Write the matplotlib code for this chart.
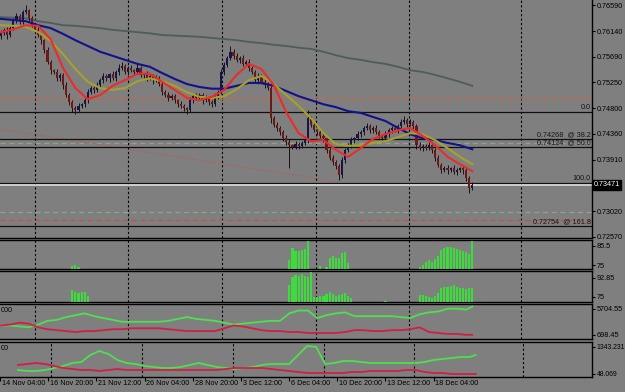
import matplotlib
matplotlib.use('Agg')
import matplotlib.pyplot as plt
import matplotlib.transforms as mtransforms
import numpy as np

plt.rcParams['font.family'] = ['Liberation Sans', 'DejaVu Sans']

# H4 candles, prices in pips above 0.7000 (611 -> 0.7611)
first_open = 605
closes = [611, 616, 607, 619, 633, 640, 630, 647, 650, 636,
          624, 616, 607, 598, 581, 560, 546, 543, 532, 538,
          520, 503, 491, 480, 477, 484, 487, 494, 508, 515,
          512, 520, 529, 536, 532, 539, 532, 543, 550, 553,
          543, 550, 546, 543, 550, 538, 539, 532, 536, 529,
          532, 522, 508, 503, 498, 501, 494, 487, 484, 480,
          477, 494, 501, 498, 503, 494, 498, 491, 487, 501,
          508, 543, 555, 567, 578, 571, 564, 567, 557, 560,
          550, 543, 529, 536, 526, 520, 515, 463, 451, 446,
          439, 428, 422, 416, 413, 418, 415, 420, 425, 463,
          451, 442, 439, 432, 428, 408, 394, 387, 380, 364,
          390, 408, 416, 425, 428, 435, 439, 446, 449, 442,
          446, 439, 432, 428, 435, 442, 446, 442, 449, 456,
          460, 453, 456, 449, 416, 411, 415, 411, 416, 408,
          394, 382, 373, 376, 373, 376, 370, 373, 376, 373,
          359, 342, 347]
wick_up = [4, 3, 5, 3, 4, 6, 3, 4, 9, 3,
           4, 3, 5, 4, 3, 5, 4, 3, 6, 4,
           3, 5, 4, 3, 4, 5, 3, 4, 6, 3,
           4, 5, 3, 6, 4, 3, 5, 4, 6, 8,
           3, 4, 5, 3, 6, 4, 3, 5, 4, 3,
           5, 4, 3, 4, 5, 3, 4, 3, 5, 4,
           3, 5, 4, 6, 3, 4, 5, 3, 4, 6,
           4, 6, 5, 4, 10, 4, 5, 3, 6, 4,
           5, 3, 4, 6, 3, 4, 5, 3, 4, 5,
           3, 4, 5, 4, 3, 5, 4, 3, 5, 14,
           4, 5, 3, 4, 5, 3, 4, 5, 3, 4,
           5, 3, 4, 6, 3, 5, 4, 3, 5, 4,
           3, 5, 4, 3, 6, 4, 3, 5, 4, 5,
           7, 4, 5, 3, 4, 5, 3, 4, 6, 3,
           4, 5, 3, 4, 5, 3, 6, 4, 3, 5,
           4, 3, 5]
wick_dn = [5, 4, 6, 3, 4, 5, 4, 3, 4, 5,
           3, 5, 4, 6, 5, 4, 6, 3, 5, 4,
           6, 4, 5, 7, 6, 4, 3, 5, 4, 3,
           5, 4, 3, 5, 4, 6, 3, 4, 5, 3,
           4, 6, 3, 5, 4, 3, 5, 4, 3, 6,
           4, 3, 5, 4, 6, 3, 5, 4, 3, 5,
           6, 4, 5, 3, 4, 6, 3, 5, 4, 3,
           4, 3, 5, 4, 3, 5, 4, 6, 3, 4,
           5, 4, 3, 6, 4, 5, 3, 8, 4, 5,
           6, 4, 5, 40, 4, 3, 5, 4, 3, 5,
           4, 3, 5, 4, 6, 5, 4, 6, 5, 9,
           4, 5, 3, 4, 5, 3, 4, 5, 3, 4,
           5, 3, 4, 6, 3, 4, 5, 3, 4, 3,
           4, 5, 3, 4, 6, 4, 5, 3, 4, 5,
           6, 4, 5, 3, 6, 4, 3, 5, 4, 6,
           5, 9, 4]

# moving averages read every 4th bar (pips)
ma_bars = list(range(0, 153, 4))
ma_fast = [612, 617, 624, 623, 600, 550, 515, 496, 503, 519, 529, 540, 540,
           526, 512, 498, 494, 500, 512, 538, 557, 548, 520, 473, 437, 423,
           425, 408, 396, 411, 427, 435, 442, 446, 432, 416, 396, 383, 371]
ma_mid = [624, 623, 621, 612, 597, 574, 548, 526, 515, 512, 515, 527, 532,
          527, 519, 508, 500, 498, 501, 513, 529, 536, 522, 503, 484, 463,
          437, 418, 415, 416, 420, 423, 430, 437, 435, 425, 411, 396, 383]
ma_slow = [635, 633, 631, 624, 619, 609, 598, 588, 578, 571, 564, 557, 552,
           541, 531, 522, 517, 514, 514, 519, 524, 524, 519, 510, 501, 494,
           487, 482, 475, 472, 465, 458, 446, 435, 428, 425, 420, 416, 409]
ma_long = [638, 637, 636, 631, 628, 624, 623, 621, 619, 616, 614, 612, 610,
           607, 606, 605, 604, 602, 600, 598, 595, 593, 590, 588, 585, 583,
           578, 572, 567, 564, 560, 557, 552, 546, 543, 538, 532, 526, 519]

# fibonacci retracement and other horizontal levels
fib_levels = ['0.0', '38.2', '50.0', '100.0', '161.8']
fib_prices = [0.74734, 0.74268, 0.74124, 0.73514, 0.72754]
bid = 0.73471
dash_prices = [0.7496, 0.7420, 0.7300, 0.72865]
dash_colors = ['#d0603a', '#8ea48c', '#8ea48c', '#c8503c']
trend_bars = [-0.5, 109]
trend_prices = [0.7444, 0.7352]

price_ticks = [0.76590, 0.76140, 0.75690, 0.75250, 0.74800,
               0.74360, 0.73910, 0.73020, 0.72570]

# histogram sub windows
h1_bars = [23, 24, 25] + list(range(93, 100)) + [103] + list(range(105, 113)) + list(range(135, 153))
h1_vals = [74.5, 74.8, 73.8,
           77.8, 84.4, 82.7, 82.7, 83.3, 83.8, 88.2,
           74.2,
           74.0, 78.9, 80.0, 78.9, 78.9, 81.6, 82.2, 76.1,
           73.9, 75.0, 76.6, 77.8, 76.6, 78.3, 80.0, 83.3, 84.4, 85.0,
           85.0, 84.4, 83.8, 83.3, 82.7, 82.2, 81.1, 88.2]
h2_bars = list(range(23, 29)) + list(range(93, 114)) + [124] + list(range(135, 153))
h2_vals = [81.6, 79.7, 78.8, 79.7, 79.7, 75.9,
           86.3, 93.8, 95.7, 94.7, 96.6, 94.7, 93.8, 98.5,
           75.0, 75.0, 76.0, 76.0, 77.8, 79.7, 77.8, 76.0, 76.9, 77.8, 78.8, 76.0, 74.1,
           71.2,
           76.9, 76.9, 75.9, 75.0, 74.1, 76.0, 78.8, 83.5, 84.4, 84.4, 85.3,
           86.3, 84.4, 83.5, 83.5, 82.5, 83.5, 83.5]

# line sub windows, read every 3rd bar
ind_bars = list(range(0, 151, 3)) + [152]
p4_green = [2486, 2486, 2307, 2129, 2665, 3380, 3559, 4095, 4453, 4811,
            4274, 3917, 3559, 3201, 3201, 3201, 3201, 3201, 3380, 3738,
            4095, 3738, 3559, 3380, 3023, 2665, 2844, 3023, 3201, 3380,
            3380, 4811, 5347, 5347, 3917, 4453, 4811, 4989, 4274, 4274,
            4274, 4274, 4274, 4095, 3917, 4632, 4989, 5168, 5705, 5705,
            5526, 6100]
p4_red = [2486, 2665, 3023, 2844, 2129, 1771, 1592, 1413, 1235, 1413,
          1413, 1592, 1771, 1771, 1950, 1950, 1950, 1950, 1771, 1592,
          1413, 1413, 1413, 1413, 1950, 2486, 2307, 1950, 1592, 1413,
          1413, 1235, 1235, 1056, 1056, 1056, 1056, 1235, 1592, 1592,
          1413, 1413, 1592, 1592, 1771, 2129, 1235, 1056, 877, 877,
          698, 698]
p5_green = [239, 191, 191, 239, 335, 431, 575, 623, 959, 1151,
            1007, 719, 575, 527, 431, 383, 335, 335, 383, 479,
            575, 479, 383, 335, 287, 335, 383, 479, 527, 527,
            527, 959, 1391, 1343, 527, 575, 671, 671, 623, 575,
            575, 575, 575, 575, 575, 623, 719, 767, 815, 863,
            863, 959]
p5_red = [479, 527, 575, 527, 431, 335, 287, 239, 239, 191, 239, 287,
          239, 239, 239, 239, 239, 239, 239, 239, 239, 239, 239,
          287, 335, 335, 335, 335, 287, 239, 191, 143,
          95, 95, 95, 95, 95, 143, 143, 191, 191, 191, 191, 239, 239,
          143, 95, 95, 47, 47, 47, 47]

time_bars = [-6, 10, 26, 42, 58, 74, 90, 106, 122, 138]
time_labels = ['14 Nov 04:00', '16 Nov 20:00', '21 Nov 12:00', '26 Nov 04:00',
               '28 Nov 20:00', '3 Dec 12:00', '6 Dec 04:00', '10 Dec 20:00',
               '13 Dec 12:00', '18 Dec 04:00']
grid_bars = [11.0, 41.0, 71.3, 101.6, 131.6, 167.7]

W, H = 625, 392
BG = '#7f7f7f'
FS = 5.2


def box(top, bottom):
    return [0, 1 - bottom / H, 592 / W, (bottom - top) / H]


def pip(v):
    return 0.7 + np.asarray(v, dtype=float) / 10000


fig = plt.figure(figsize=(W / 100, H / 100), dpi=100, facecolor=BG)
ax = fig.add_axes(box(-2, 238))
ax2 = fig.add_axes(box(240, 269))
ax3 = fig.add_axes(box(271, 302))
ax4 = fig.add_axes(box(304, 339))
ax5 = fig.add_axes(box(342, 377))
axes = [ax, ax2, ax3, ax4, ax5]

for a in axes:
    a.set_facecolor(BG)
    a.set_xlim(-0.32, 190.6)
    a.spines['left'].set_visible(False)
    for s in ['right', 'bottom', 'top']:
        a.spines[s].set_color('black')
        a.spines[s].set_linewidth(1.0)
    a.yaxis.tick_right()
    a.tick_params(axis='y', length=2.5, width=0.8, pad=0.8, labelsize=FS, colors='black')
    a.tick_params(axis='x', bottom=False, labelbottom=False)
    for g in grid_bars:
        a.axvline(g, color='black', lw=0.8, ls=(0, (2, 2)), zorder=1)
ax.spines['top'].set_visible(False)
ax5.tick_params(axis='y', labelsize=4.9)

# main price window
x = np.arange(len(closes))
c = pip(closes)
o = pip([first_open] + closes[:-1])
hi = np.maximum(o, c) + np.array(wick_up) / 10000
lo = np.minimum(o, c) - np.array(wick_dn) / 10000
body_col = np.where(c >= o, '#16164a', '#6e1818')

for p, col in zip(dash_prices, dash_colors):
    ax.axhline(p, color=col, lw=0.9, ls=(0, (4, 3)), zorder=2)
ax.plot(trend_bars, trend_prices, color='#b06060', lw=0.9, ls=(0, (1.5, 1.5)), zorder=2)
for p in fib_prices:
    ax.axhline(p, color='#101010', lw=0.9, zorder=2)
ax.axhline(bid, color='#e4e4e4', lw=1.1, zorder=2)

ax.plot(ma_bars, pip(ma_long), color='#4d5e58', lw=1.3, zorder=3)
ax.vlines(x, lo, hi, color='#141414', lw=0.7, zorder=4)
ax.bar(x, np.maximum(np.abs(c - o), 0.00004), bottom=np.minimum(o, c), width=0.7,
       color=body_col, lw=0, zorder=5)
ax.plot(ma_bars, pip(ma_slow), color='#12128c', lw=1.5, zorder=6)
ax.plot(ma_bars, pip(ma_mid), color='#a6a229', lw=1.5, zorder=6)
ax.plot(ma_bars, pip(ma_fast), color='#ee2a2a', lw=1.5, zorder=7)

for lvl, p in zip(fib_levels, fib_prices):
    txt = lvl if lvl in ('0.0', '100.0') else f'{p:.5f}  @ {lvl}'
    ax.text(190.2, p + 0.00012, txt, ha='right', va='bottom', fontsize=FS,
            color='#151515', zorder=8)

ax.set_ylim(0.725522, 0.76712)
ax.set_yticks(price_ticks)
ax.set_yticklabels([f'{t:.5f}' for t in price_ticks])
ax.text(1.003, bid, f'{bid:.5f}', transform=mtransforms.blended_transform_factory(ax.transAxes, ax.transData),
        ha='left', va='center', fontsize=FS, color='white',
        bbox=dict(boxstyle='square,pad=0.15', fc='black', ec='black'))

# histogram windows
ax2.bar(h1_bars, h1_vals, width=0.7, color='#3ddc3d', lw=0, zorder=3)
ax2.set_ylim(72.8, 88.8)
ax2.set_yticks([85.5, 75])
ax2.set_yticklabels(['85.5', '75'])

ax3.bar(h2_bars, h2_vals, width=0.7, color='#3ddc3d', lw=0, zorder=3)
ax3.set_ylim(70.3, 99.4)
ax3.set_yticks([92.85, 75])
ax3.set_yticklabels(['92.85', '75'])

# line windows
ax4.plot(ind_bars, p4_green, color='#4ee04e', lw=1.3, zorder=3)
ax4.plot(ind_bars, p4_red, color='#d21e46', lw=1.3, zorder=3)
ax4.set_ylim(-100, 6600)
ax4.set_yticks([5704.55, 698.45])
ax4.set_yticklabels(['5704.55', '698.45'])

ax5.plot(ind_bars, p5_green, color='#4ee04e', lw=1.3, zorder=3)
ax5.plot(ind_bars, p5_red, color='#d21e46', lw=1.3, zorder=3)
ax5.set_ylim(-97, 1583)
ax5.set_yticks([1343.231, 48.069])
ax5.set_yticklabels(['1343.231', '48.069'])

fig.text(0.5 / W, 1 - 311 / H, '000', ha='left', va='center', fontsize=FS, color='black')
fig.text(0.5 / W, 1 - 348 / H, '00', ha='left', va='center', fontsize=FS, color='black')

# time axis
ax5.set_xticks(time_bars)
ax5.tick_params(axis='x', bottom=True, length=3, width=0.8, color='black', labelbottom=False)
tb = mtransforms.blended_transform_factory(ax5.transData, ax5.transAxes)
for b, lab in zip(time_bars, time_labels):
    ax5.text(b + 0.6, -0.18, lab, transform=tb, ha='left', va='center',
             fontsize=FS, color='black', clip_on=False)

fig.savefig('out.png', dpi=100, facecolor=BG)
